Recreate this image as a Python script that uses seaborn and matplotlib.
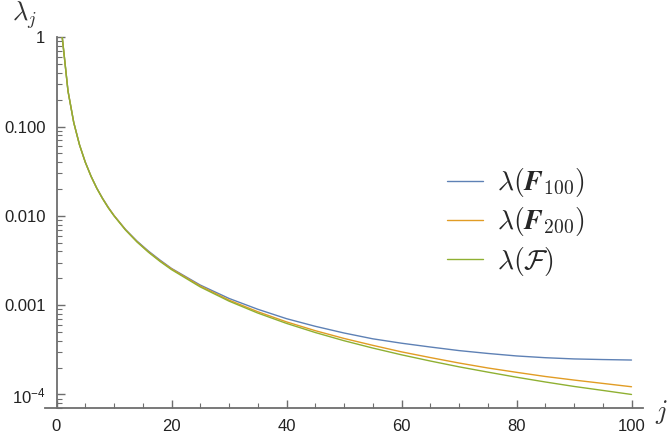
import matplotlib
matplotlib.use('Agg')
import matplotlib.pyplot as plt
import matplotlib.ticker as mticker
import seaborn as sns
import pandas as pd
import numpy as np

# 数据
j_index = [1, 2, 3, 4, 5, 6, 7, 8, 9, 10, 12, 14, 16, 18, 20, 25, 30, 35, 40, 45,
           50, 55, 60, 65, 70, 75, 80, 85, 90, 95, 100]
lam_F100 = [1.0, 0.25, 0.111, 0.0626, 0.0401, 0.0279, 0.0205, 0.0158, 0.0125, 0.0101,
            0.00705, 0.00522, 0.00403, 0.00320, 0.00258, 0.00168, 0.00119, 0.000900,
            0.000706, 0.000580, 0.000488, 0.000420, 0.000375, 0.000340, 0.000310,
            0.000288, 0.000270, 0.000258, 0.000250, 0.000246, 0.000243]
lam_F200 = [1.0, 0.25, 0.111, 0.0625, 0.0400, 0.0278, 0.0204, 0.0157, 0.0124, 0.0101,
            0.00700, 0.00515, 0.00396, 0.00314, 0.00255, 0.00164, 0.00114, 0.000845,
            0.000650, 0.000518, 0.000424, 0.000355, 0.000300, 0.000259, 0.000225,
            0.000198, 0.000177, 0.000159, 0.000145, 0.000133, 0.000122]
lam_Fcal = [1.0, 0.25, 0.111, 0.0625, 0.0400, 0.0278, 0.0204, 0.0156, 0.0123, 0.0100,
            0.00694, 0.00510, 0.00391, 0.00309, 0.00250, 0.00160, 0.00111, 0.000816,
            0.000625, 0.000494, 0.000400, 0.000331, 0.000278, 0.000237, 0.000204,
            0.000178, 0.000156, 0.000138, 0.000123, 0.000111, 0.000100]
series_labels = [r'$\lambda(\boldsymbol{F}_{100})$', r'$\lambda(\boldsymbol{F}_{200})$',
                 r'$\lambda(\mathcal{F})$']
series_colors = ['#5E81B5', '#E19C24', '#8FB032']
y_ticks = [1e-4, 1e-3, 1e-2, 1e-1, 1]
y_ticklabels = [r'$\mathregular{10^{-4}}$', '0.001', '0.010', '0.100', '1']
x_ticks = [0, 20, 40, 60, 80, 100]

df = pd.concat([
    pd.DataFrame({'j': j_index, 'lam': vals, 'series': lab})
    for vals, lab in zip([lam_F100, lam_F200, lam_Fcal], series_labels)
])

sns.set_style('white')
plt.rcParams['mathtext.fontset'] = 'cm'
plt.rcParams['font.family'] = ['Liberation Sans', 'DejaVu Sans']

fig = plt.figure(figsize=(6.67, 4.36), dpi=100)
ax = fig.add_axes([45 / 667, 1 - 408.3 / 436, (643 - 45) / 667, (408.3 - 37.3) / 436])

sns.lineplot(data=df, x='j', y='lam', hue='series', palette=series_colors,
             linewidth=1.0, ax=ax, legend=True)

ax.set_yscale('log')
ax.set_xlim(-2, 102)
ax.set_ylim(10 ** -4.155, 1.0)

# Mathematica 风格坐标轴
ax.spines['top'].set_visible(False)
ax.spines['right'].set_visible(False)
ax.spines['left'].set_position(('data', 0))
for s in ['left', 'bottom']:
    ax.spines[s].set_color('#6e6e6e')
    ax.spines[s].set_linewidth(1.3)

ax.set_yticks(y_ticks)
ax.set_yticklabels(y_ticklabels)
ax.yaxis.set_minor_locator(mticker.LogLocator(base=10, subs=np.arange(2, 10)))
ax.yaxis.set_minor_formatter(mticker.NullFormatter())
ax.set_xticks(x_ticks)
ax.xaxis.set_minor_locator(mticker.MultipleLocator(5))
ax.tick_params(which='major', direction='in', length=6, width=1.0, color='#6e6e6e',
               labelsize=12, labelcolor='#222222', left=True, bottom=True)
ax.tick_params(which='minor', direction='in', length=3.5, width=0.8, color='#6e6e6e',
               left=True, bottom=True)
ax.tick_params(axis='y', pad=8)
ax.tick_params(axis='x', pad=8)
ax.set_xlabel('')
ax.set_ylabel('')

fig.text(12 / 667, 1 - 15 / 436, r'$\lambda_j$', fontsize=19, va='center', ha='left',
         color='#333333')
fig.text(655 / 667, 1 - 412 / 436, r'$j$', fontsize=19, va='center', ha='left',
         color='#333333')

leg = ax.legend(loc='center left', bbox_to_anchor=(447 / 667, 1 - 222 / 436),
                bbox_transform=fig.transFigure, frameon=False, fontsize=20,
                handlelength=1.3, handletextpad=0.5, labelspacing=0.22,
                borderpad=0, borderaxespad=0)
for line in leg.get_lines():
    line.set_linewidth(1.0)

fig.savefig('out.png', dpi=100)
